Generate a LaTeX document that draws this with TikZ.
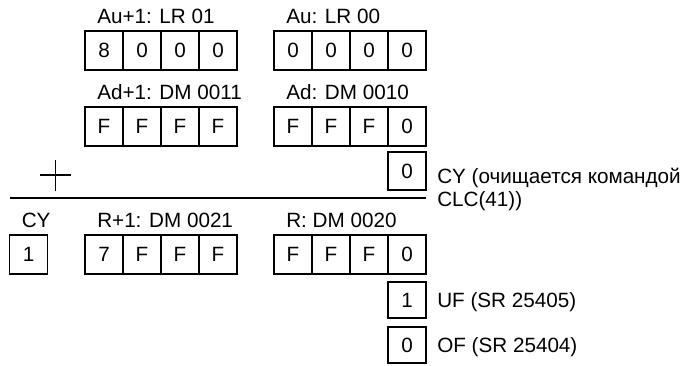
\documentclass[tikz,border=0pt]{standalone}
\usepackage{fontspec}
\setmainfont{Liberation Sans}
\usetikzlibrary{positioning,calc}

\begin{document}
\begin{tikzpicture}[
  x=0.75pt,y=-0.75pt,
  every node/.style={font=\fontsize{15.5}{17.25}\selectfont},
  cell/.style={draw,line width=1.4pt,minimum width=28.5pt,minimum height=29pt,inner sep=0pt,outer sep=0pt},
  flag/.style={cell,minimum height=27pt},
  lbl/.style={anchor=base west,inner sep=0pt},
  note/.style={anchor=base west,align=left,inner sep=0pt}
]
\useasboundingbox (0,0) rectangle (690,365);

% Au+1, Au
\foreach \v [count=\i] in {8,0,0,0}
  \node[cell] (auhi-\i) at (66+38*\i,50.5) {\v};
\foreach \v [count=\i] in {0,0,0,0}
  \node[cell] (aulo-\i) at (255+38*\i,50.5) {\v};
\node[lbl] (lauhi) at ([xshift=9pt,yshift=5.5pt]auhi-1.north west) {Au+1: LR 01};
\node[lbl] (laulo) at ([xshift=9pt,yshift=5.5pt]aulo-1.north west) {Au: LR 00};

% Ad+1, Ad
\foreach \v [count=\i] in {F,F,F,F}
  \node[cell] (adhi-\i) at (66+38*\i,126.5) {\v};
\foreach \v [count=\i] in {F,F,F,0}
  \node[cell] (adlo-\i) at (255+38*\i,126.5) {\v};
\node[lbl] (ladhi) at ([xshift=9pt,yshift=5.5pt]adhi-1.north west) {Ad+1: DM 0011};
\node[lbl] (ladlo) at ([xshift=9pt,yshift=5.5pt]adlo-1.north west) {Ad: DM 0010};

% carry in
\node[cell,minimum height=28.5pt] (cyin) at (407,171) {0};
\node[note] (lcyin) at (437,206) {CY (очищается командой\\CLC(41))};

% plus and rule
\draw[line width=0.8pt] (40,175) -- (71,175) (55.5,160) -- (55.5,191);
\coordinate (rulea) at (10,198);
\coordinate (ruleb) at (cyin.east |- rulea);
\draw[line width=1.6pt] (rulea) -- (ruleb);

% result
\node[cell] (cyout) at (28.5,254.5) {1};
\foreach \v [count=\i] in {7,F,F,F}
  \node[cell] (rhi-\i) at (66+38*\i,254.5) {\v};
\foreach \v [count=\i] in {F,F,F,0}
  \node[cell] (rlo-\i) at (255+38*\i,254.5) {\v};
\node[lbl] (lcyout) at ([xshift=9pt,yshift=5.5pt]cyout.north west) {CY};
\node[lbl] (lrhi) at ([xshift=9pt,yshift=5.5pt]rhi-1.north west) {R+1: DM 0021};
\node[lbl] (lrlo) at ([xshift=9pt,yshift=5.5pt]rlo-1.north west) {R: DM 0020};

% flags
\node[flag] (uf) at (407,300) {1};
\node[flag] (of) at (407,345) {0};
\node[lbl] (luf) at (437,307.5) {UF (SR 25405)};
\node[lbl] (lof) at (437,352.5) {OF (SR 25404)};
\end{tikzpicture}
\end{document}
